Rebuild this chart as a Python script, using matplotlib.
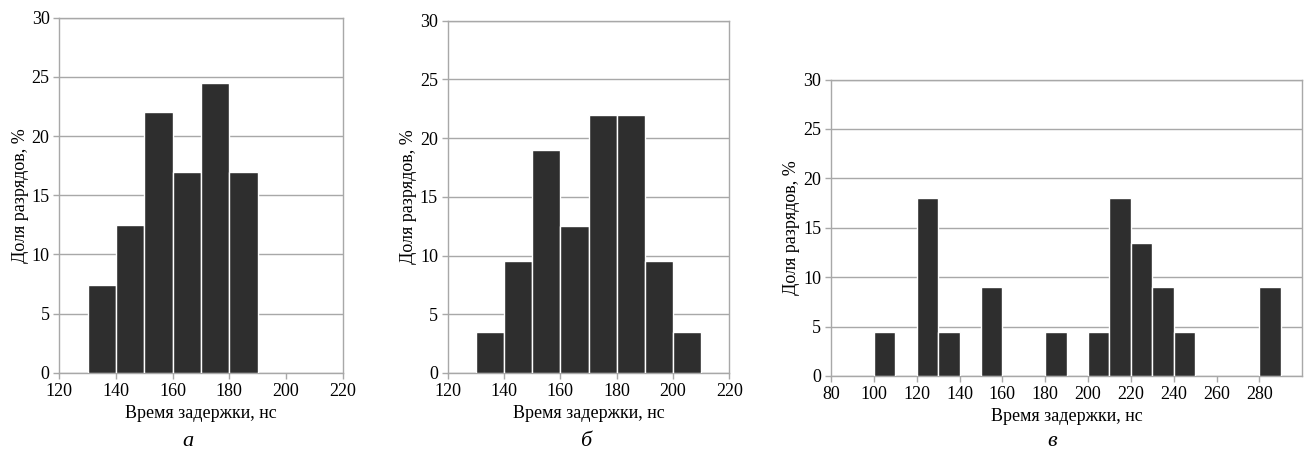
import matplotlib
matplotlib.use("Agg")
import matplotlib.pyplot as plt

plt.rcParams['font.family'] = ['Liberation Serif', 'DejaVu Serif']

# Panel а
a_left = [130, 140, 150, 160, 170, 180]
a_vals = [7.4, 12.5, 22.0, 17.0, 24.5, 17.0]
# Panel б
b_left = [130, 140, 150, 160, 170, 180, 190, 200]
b_vals = [3.5, 9.5, 19.0, 12.5, 22.0, 22.0, 9.5, 3.5]
# Panel в
c_left = [100, 120, 130, 150, 180, 200, 210, 220, 230, 240, 280]
c_vals = [4.5, 18.0, 4.5, 9.0, 4.5, 4.5, 18.0, 13.5, 9.0, 4.5, 9.0]

xlabel = "Время задержки, нс"
ylabel = "Доля разрядов, %"
sublabels = ["а", "б", "в"]
yticks = [0, 5, 10, 15, 20, 25, 30]
a_xticks = [120, 140, 160, 180, 200, 220]
c_xticks = [80, 100, 120, 140, 160, 180, 200, 220, 240, 260, 280]

W, H = 1309, 459
fig = plt.figure(figsize=(W / 100, H / 100), dpi=100)

def box(l, r, t, b):
    return [l / W, 1 - b / H, (r - l) / W, (b - t) / H]

gray = '#a8a8a8'
barc = '#2e2e2e'
fs = 13

panels = [
    (box(59.3, 342.5, 17.7, 372.9), a_left, a_vals, (120, 220), a_xticks),
    (box(447.7, 729.3, 20.7, 372.9), b_left, b_vals, (120, 220), a_xticks),
    (box(831, 1302.3, 79.5, 376), c_left, c_vals, (80, 300), c_xticks),
]

axes = []
for pos, lefts, vals, xlim, xt in panels:
    ax = fig.add_axes(pos)
    ax.bar(lefts, vals, width=10, align='edge', color=barc,
           edgecolor='white', linewidth=1.0, zorder=3)
    ax.set_xlim(*xlim)
    ax.set_ylim(0, 30)
    ax.set_yticks(yticks)
    ax.set_xticks(xt)
    ax.yaxis.grid(True, color=gray, linewidth=1.0, zorder=0)
    ax.set_axisbelow(True)
    for s in ax.spines.values():
        s.set_color(gray)
        s.set_linewidth(1.0)
    ax.tick_params(axis='both', colors=gray, labelcolor='black',
                   labelsize=fs, length=4, width=1.0, direction='out', pad=3)
    ax.set_xlabel(xlabel, fontsize=fs, labelpad=4)
    ax.set_ylabel(ylabel, fontsize=fs, labelpad=2)
    axes.append(ax)

sub_x = [188, 586, 1052]
for x, s in zip(sub_x, sublabels):
    fig.text(x / W, 1 - 442 / H, s, fontsize=16, style='italic',
             ha='center', va='center')

fig.savefig('out.png', dpi=100)
